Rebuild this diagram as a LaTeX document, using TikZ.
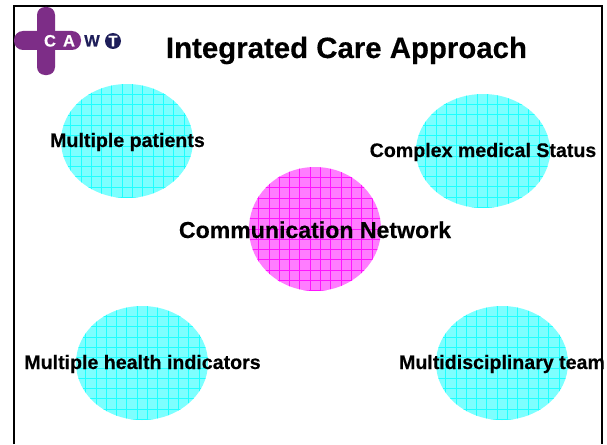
\documentclass[tikz,border=0pt]{standalone}
\usepackage{fontspec}
\setmainfont{Liberation Sans}[BoldFeatures={FakeBold=0.35}]
\usetikzlibrary{shapes.geometric}
\definecolor{cyanfill}{RGB}{125,255,255}
\definecolor{cyanline}{RGB}{30,255,255}
\definecolor{magfill}{RGB}{255,125,255}
\definecolor{magline}{RGB}{255,20,255}
\definecolor{logopurple}{RGB}{125,45,135}
\definecolor{logonavy}{RGB}{30,30,90}
\tikzset{
  x=1pt,y=-1pt,
  blob/.style={ellipse,inner sep=0pt,outer sep=0pt},
  lab/.style={inner sep=0pt,font=\bfseries\fontsize{19.6pt}{22pt}\selectfont,text=black},
  bigl/.style={inner sep=0pt,font=\bfseries\fontsize{23.1pt}{26pt}\selectfont,text=black},
  logol/.style={inner sep=0pt,font=\bfseries\fontsize{16.5pt}{18pt}\selectfont},
}
\newcommand{\hatchblob}[6]{% name, cx, cy, rx, ry, colours prefix
  \fill[#6fill] (#2,#3) ellipse [x radius=#4,y radius=#5];
  \begin{scope}
    \clip (#2,#3) ellipse [x radius=#4,y radius=#5];
    \foreach \k in {0,...,13}{
      \draw[#6line,line width=0.5pt] ({#2-#4+9.5+\k*10.3},{#3-#5-2}) -- ++(0,{2*#5+4});
      \draw[#6line,line width=0.5pt] ({#2-#4-2},{#3-#5+10.3+\k*10.3}) -- ++({2*#4+4},0);
    }
  \end{scope}
  \node[blob,minimum width=2*#4,minimum height=2*#5] (#1) at (#2,#3) {};
}
\begin{document}
\begin{tikzpicture}
\useasboundingbox (0,0) rectangle (607,444);
\fill[white] (0,0) rectangle (607,444);
% frame
\draw[black,line width=2pt] (14,444) -- (14,6) -- (601.5,6) -- (601.5,444);
% logo
\fill[logopurple,rounded corners=8pt] (37,7) rectangle (55,75);
\fill[logopurple,rounded corners=9pt] (14,31) rectangle (81,50);
\node[logol,text=white,anchor=base] (logoC) at (50,46.5) {C};
\node[logol,text=white,anchor=base] (logoA) at (69,46.5) {A};
\node[logol,text=logonavy,anchor=base] (logoW) at (92,46.5) {W};
\fill[logonavy] (113,41) circle (8);
\node[logol,text=white,anchor=base,font=\bfseries\fontsize{15pt}{16pt}\selectfont] (logoT) at (113,46.3) {T};
% title
\node[inner sep=0pt,anchor=base,font=\bfseries\fontsize{29.4pt}{32pt}\selectfont] (title) at (346.5,58) {Integrated Care Approach};
% blobs
\hatchblob{a}{127}{141}{66}{57}{cyan}
\hatchblob{b}{483}{151}{67}{57}{cyan}
\hatchblob{c}{315}{229}{66}{62}{mag}
\hatchblob{d}{142}{363}{66}{57}{cyan}
\hatchblob{e}{502}{363}{66}{57}{cyan}
% labels
\node[lab,anchor=base] (la) at (127.5,147) {Multiple patients};
\node[lab,anchor=base] (lb) at (483,157) {Complex medical Status};
\node[bigl,anchor=base] (lc) at (315,238) {Communication Network};
\node[lab,anchor=base] (ld) at (142.5,369) {Multiple health indicators};
\node[lab,anchor=base] (le) at (502,369) {Multidisciplinary team};
\end{tikzpicture}
\end{document}
